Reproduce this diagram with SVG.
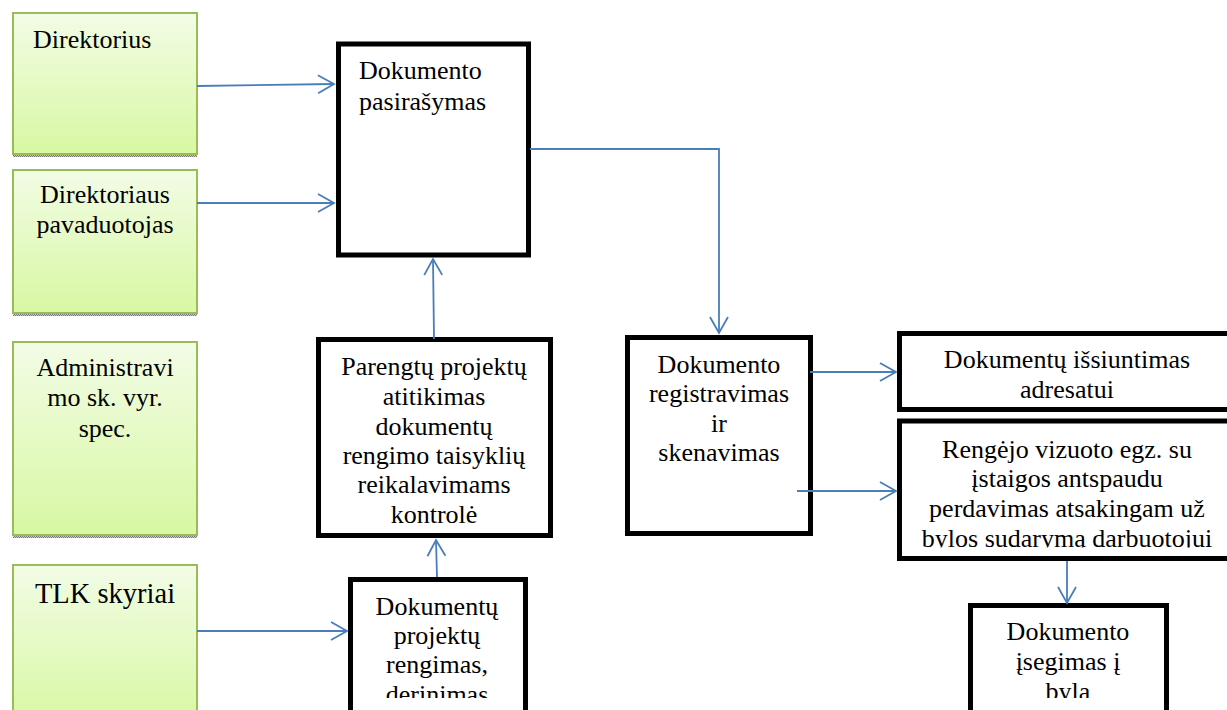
<svg xmlns="http://www.w3.org/2000/svg" width="1227" height="710" viewBox="0 0 1227 710">
  <defs>
    <linearGradient id="greenFill" x1="0" y1="0" x2="0" y2="1">
      <stop offset="0" stop-color="#F2FCE6"/>
      <stop offset="1" stop-color="#D8F8A2"/>
    </linearGradient>
    <pattern id="shadowDots" width="2" height="2" patternUnits="userSpaceOnUse">
      <rect width="2" height="2" fill="#C8C8C8"/>
      <rect width="1" height="1" fill="#7A7A7A"/>
      <rect x="1" y="1" width="1" height="1" fill="#7A7A7A"/>
    </pattern>
    <marker id="arrowOpen" markerUnits="userSpaceOnUse" markerWidth="20" markerHeight="24" refX="17" refY="10" orient="auto">
      <path d="M1,1 L17,10 L1,19" fill="none" stroke="#4A7EBB" stroke-width="1.8"/>
    </marker>
    <clipPath id="clipProjects"><rect x="340" y="570" width="200" height="128"/></clipPath>
    <clipPath id="clipFiling"><rect x="960" y="595" width="220" height="103"/></clipPath>
    <clipPath id="clipHandover"><rect x="890" y="415" width="337" height="132.5"/></clipPath>
  </defs>
  <style>
    .role { fill: url(#greenFill); stroke: #9BBB59; stroke-width: 2; }
    .shadow { fill: url(#shadowDots); }
    .step { fill: #FFFFFF; stroke: #000000; stroke-width: 5; }
    .txt { font-family: 'Liberation Serif', Tinos, 'Times New Roman', 'DejaVu Serif', serif; font-size: 26px; fill: #000000; }
    .mid { text-anchor: middle; }
    .link { fill: none; stroke: #4A7EBB; stroke-width: 1.8; marker-end: url(#arrowOpen); }
  </style>

  <rect width="1227" height="710" fill="#FFFFFF"/>

  <!-- role boxes (left column) -->
  <g id="direktorius">
    <rect class="shadow" x="13" y="154" width="184" height="3"/>
    <rect class="role" x="13" y="13" width="184" height="141"/>
    <text class="txt" x="33" y="48">Direktorius</text>
  </g>
  <g id="pavaduotojas">
    <rect class="shadow" x="13" y="313" width="184" height="3"/>
    <rect class="role" x="13" y="170" width="184" height="143"/>
    <text class="txt mid" x="105" y="203">Direktoriaus</text>
    <text class="txt mid" x="105" y="233">pavaduotojas</text>
  </g>
  <g id="administravimo-spec">
    <rect class="shadow" x="13" y="535" width="184" height="3"/>
    <rect class="role" x="13" y="342" width="184" height="193"/>
    <text class="txt mid" x="105" y="376">Administravi</text>
    <text class="txt mid" x="105" y="406">mo sk. vyr.</text>
    <text class="txt mid" x="105" y="437">spec.</text>
  </g>
  <g id="tlk-skyriai">
    <rect class="role" x="13" y="565" width="184" height="160"/>
    <text class="txt mid" x="105" y="603" style="font-size:28.5px">TLK skyriai</text>
  </g>

  <!-- process steps -->
  <g id="pasirasymas">
    <rect class="step" x="338.5" y="44" width="190" height="211"/>
    <text class="txt" x="359" y="79">Dokumento</text>
    <text class="txt" x="359" y="110">pasirašymas</text>
  </g>
  <g id="atitikimo-kontrole">
    <rect class="step" x="318.5" y="339.5" width="232" height="196"/>
    <text class="txt mid" x="434" y="375">Parengtų projektų</text>
    <text class="txt mid" x="434" y="405">atitikimas</text>
    <text class="txt mid" x="434" y="435">dokumentų</text>
    <text class="txt mid" x="434" y="464">rengimo taisyklių</text>
    <text class="txt mid" x="434" y="493">reikalavimams</text>
    <text class="txt mid" x="434" y="523">kontrolė</text>
  </g>
  <g id="projektu-rengimas">
    <rect class="step" x="350.5" y="579.5" width="175" height="150"/>
    <g clip-path="url(#clipProjects)">
      <text class="txt mid" x="437" y="615">Dokumentų</text>
      <text class="txt mid" x="437" y="644">projektų</text>
      <text class="txt mid" x="437" y="673">rengimas,</text>
      <text class="txt mid" x="437" y="703">derinimas</text>
    </g>
  </g>
  <g id="registravimas">
    <rect class="step" x="627.5" y="337.5" width="183" height="196"/>
    <text class="txt mid" x="719" y="373">Dokumento</text>
    <text class="txt mid" x="719" y="402">registravimas</text>
    <text class="txt mid" x="719" y="432">ir</text>
    <text class="txt mid" x="719" y="461">skenavimas</text>
  </g>
  <g id="issiuntimas">
    <rect class="step" x="899.5" y="333.5" width="360" height="76"/>
    <text class="txt mid" x="1067" y="368">Dokumentų išsiuntimas</text>
    <text class="txt mid" x="1067" y="398">adresatui</text>
  </g>
  <g id="perdavimas">
    <rect class="step" x="899.5" y="421" width="360" height="137.5"/>
    <g clip-path="url(#clipHandover)">
      <text class="txt mid" x="1067" y="458">Rengėjo vizuoto egz. su</text>
      <text class="txt mid" x="1067" y="487">įstaigos antspaudu</text>
      <text class="txt mid" x="1067" y="517">perdavimas atsakingam už</text>
      <text class="txt mid" x="1067" y="547">bylos sudarymą darbuotojui</text>
    </g>
  </g>
  <g id="isegimas">
    <rect class="step" x="970.5" y="605.5" width="196" height="130"/>
    <g clip-path="url(#clipFiling)">
      <text class="txt mid" x="1068" y="640">Dokumento</text>
      <text class="txt mid" x="1068" y="670">įsegimas į</text>
      <text class="txt mid" x="1068" y="700">bylą</text>
    </g>
  </g>

  <!-- connectors -->
  <g id="connectors">
    <path class="link" d="M197,86 L334,84"/>
    <path class="link" d="M197,203 L334,203"/>
    <path class="link" d="M434,339 L433,259"/>
    <path class="link" d="M530,149 L719,149 L719,333"/>
    <path class="link" d="M437,577 L436,540"/>
    <path class="link" d="M197,631 L347,631"/>
    <path class="link" d="M810,372 L896,372"/>
    <path class="link" d="M797,491 L896,491"/>
    <path class="link" d="M1067,561 L1067,603"/>
  </g>
</svg>
